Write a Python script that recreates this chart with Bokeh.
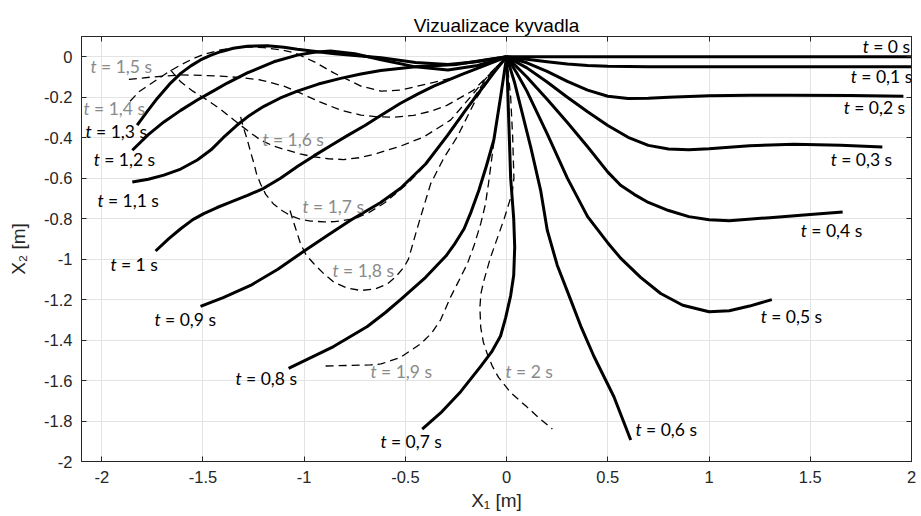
from bokeh.plotting import figure
from bokeh.models import Range1d, LinearAxis, FixedTicker, ColumnDataSource
from bokeh.core.properties import value
from bokeh.embed import file_html
from bokeh.resources import INLINE

# ---------------- data ----------------
x_t00 = [0.0, 2.0]
y_t00 = [0.0, 0.0]
x_t01 = [0.0, 0.1, 0.2, 0.3, 0.4, 0.5, 0.7, 1.0, 1.5, 2.0]
y_t01 = [0.0, -0.012, -0.025, -0.036, -0.043, -0.047, -0.05, -0.05, -0.05, -0.05]
x_t02 = [0.0, 0.1, 0.2, 0.3, 0.4, 0.5, 0.6, 0.7, 0.8, 1.0, 1.2, 1.4, 1.7, 1.96]
y_t02 = [0.0, -0.03, -0.072, -0.122, -0.165, -0.195, -0.206, -0.205, -0.2, -0.193, -0.19, -0.19, -0.192, -0.195]
x_t03 = [0.0, 0.1, 0.2, 0.3, 0.4, 0.5, 0.6, 0.7, 0.8, 0.9, 1.0, 1.2, 1.42, 1.65, 1.856]
y_t03 = [0.0, -0.055, -0.125, -0.2, -0.272, -0.34, -0.398, -0.438, -0.456, -0.46, -0.455, -0.44, -0.432, -0.437, -0.446]
x_t04 = [0.0, 0.1, 0.2, 0.3, 0.4, 0.5, 0.563, 0.63, 0.7, 0.8, 0.9, 1.0, 1.1, 1.3, 1.5, 1.66]
y_t04 = [0.0, -0.1, -0.21, -0.325, -0.445, -0.57, -0.635, -0.68, -0.72, -0.76, -0.79, -0.805, -0.81, -0.795, -0.78, -0.767]
x_t05 = [0.0, 0.05, 0.1, 0.2, 0.3, 0.4, 0.5, 0.563, 0.662, 0.761, 0.87, 1.0, 1.1, 1.2, 1.31]
y_t05 = [0.0, -0.08, -0.17, -0.38, -0.6, -0.79, -0.92, -0.995, -1.09, -1.17, -1.228, -1.26, -1.255, -1.232, -1.20]
x_t06 = [0.0, 0.04, 0.07, 0.12, 0.168, 0.201, 0.25, 0.316, 0.37, 0.431, 0.53, 0.613]
y_t06 = [0.0, -0.13, -0.25, -0.45, -0.66, -0.858, -1.03, -1.2, -1.34, -1.48, -1.68, -1.894]
x_t07 = [0.0, 0.01, 0.02, 0.035, 0.04, 0.035, 0.02, -0.005, -0.03, -0.075, -0.128, -0.227, -0.326, -0.417]
y_t07 = [0.0, -0.3, -0.6, -0.8, -0.94, -1.08, -1.18, -1.29, -1.38, -1.46, -1.53, -1.655, -1.76, -1.84]
x_t08 = [0.0, -0.03, -0.063, -0.1, -0.137, -0.175, -0.21, -0.26, -0.3, -0.4, -0.524, -0.6, -0.688, -0.855, -1.077]
y_t08 = [0.0, -0.2, -0.41, -0.54, -0.66, -0.765, -0.85, -0.93, -0.985, -1.09, -1.2, -1.265, -1.333, -1.432, -1.54]
x_t09 = [0.0, -0.06, -0.128, -0.2, -0.293, -0.4, -0.524, -0.622, -0.771, -0.88, -1.0, -1.13, -1.265, -1.4, -1.512]
y_t09 = [0.0, -0.075, -0.165, -0.26, -0.39, -0.53, -0.65, -0.72, -0.808, -0.88, -0.96, -1.05, -1.13, -1.19, -1.234]
x_t10 = [0.0, -0.1, -0.227, -0.36, -0.44, -0.524, -0.622, -0.7, -0.787, -0.87, -0.952, -1.03, -1.117,
         -1.2, -1.28, -1.364, -1.43, -1.496, -1.55, -1.61, -1.67, -1.734]
y_t10 = [0.0, -0.04, -0.09, -0.145, -0.185, -0.23, -0.29, -0.34, -0.39, -0.44, -0.49, -0.54, -0.6,
         -0.65, -0.685, -0.718, -0.745, -0.775, -0.805, -0.85, -0.9, -0.96]
x_t11 = [0.0, -0.1, -0.25, -0.45, -0.622, -0.72, -0.82, -0.93, -1.034, -1.12, -1.199, -1.27, -1.334,
         -1.4, -1.46, -1.528, -1.61, -1.693, -1.77, -1.849]
y_t11 = [0.0, -0.015, -0.038, -0.05, -0.068, -0.085, -0.107, -0.135, -0.17, -0.205, -0.245, -0.29, -0.34,
         -0.4, -0.46, -0.51, -0.555, -0.585, -0.605, -0.619]
x_t12 = [0.0, -0.15, -0.29, -0.45, -0.62, -0.75, -0.87, -0.95, -1.034, -1.15, -1.281, -1.38, -1.45,
         -1.528, -1.61, -1.693, -1.77, -1.849]
y_t12 = [0.0, -0.045, -0.065, -0.05, -0.015, 0.015, 0.028, 0.022, 0.008, -0.025, -0.08, -0.13, -0.17,
         -0.214, -0.265, -0.322, -0.385, -0.462]
x_t13 = [0.0, -0.15, -0.29, -0.45, -0.62, -0.85, -1.034, -1.1, -1.182, -1.281, -1.35, -1.413, -1.46,
         -1.512, -1.56, -1.61, -1.66, -1.726, -1.775, -1.825]
y_t13 = [0.0, -0.025, -0.038, -0.028, -0.005, 0.015, 0.037, 0.047, 0.054, 0.052, 0.042, 0.025, 0.008,
         -0.016, -0.045, -0.082, -0.13, -0.206, -0.27, -0.338]
x_t14 = [-1.86, -1.816, -1.73, -1.67, -1.61, -1.55, -1.5, -1.42, -1.35, -1.27, -1.2, -1.12, -1.05, -0.95,
         -0.854, -0.72, -0.62, -0.524, -0.375, -0.244, -0.08, 0.0]
y_t14 = [-0.22, -0.173, -0.115, -0.075, -0.04, -0.01, 0.01, 0.032, 0.045, 0.048, 0.045, 0.035, 0.02, -0.025,
         -0.08, -0.145, -0.17, -0.165, -0.13, -0.099, -0.033, 0.0]
x_t15 = [-1.866, -1.75, -1.61, -1.5, -1.413, -1.3, -1.215, -1.1, -1.018, -0.92, -0.82, -0.72, -0.64,
         -0.56, -0.46, -0.37, -0.293, -0.163, -0.079, 0.0]
y_t15 = [-0.112, -0.1, -0.09, -0.092, -0.096, -0.104, -0.115, -0.145, -0.18, -0.224, -0.264, -0.288, -0.297,
         -0.299, -0.29, -0.268, -0.239, -0.165, -0.081, 0.0]
x_t16 = [-1.66, -1.61, -1.55, -1.479, -1.41, -1.347, -1.28, -1.215, -1.15, -1.083, -1.02, -0.952, -0.88,
         -0.804, -0.72, -0.64, -0.52, -0.409, -0.277, -0.178, -0.08, 0.0]
y_t16 = [-0.066, -0.124, -0.17, -0.214, -0.262, -0.313, -0.365, -0.412, -0.442, -0.462, -0.48, -0.495,
         -0.504, -0.508, -0.498, -0.478, -0.44, -0.396, -0.313, -0.198, -0.08, 0.0]
x_t17 = [-1.314, -1.3, -1.281, -1.265, -1.248, -1.235, -1.215, -1.19, -1.153, -1.11, -1.07, -1.02, -0.968,
         -0.9, -0.85, -0.75, -0.68, -0.6, -0.49, -0.42, -0.36, -0.28, -0.21, -0.128, -0.06, 0.0]
y_t17 = [-0.297, -0.35, -0.41, -0.47, -0.528, -0.58, -0.63, -0.68, -0.726, -0.76, -0.784, -0.803, -0.812,
         -0.816, -0.815, -0.80, -0.77, -0.72, -0.627, -0.555, -0.48, -0.375, -0.28, -0.149, -0.06, 0.0]
x_t18 = [-1.07, -1.045, -1.018, -0.99, -0.952, -0.9, -0.853, -0.79, -0.72, -0.65, -0.589, -0.55, -0.507,
         -0.485, -0.465, -0.445, -0.425, -0.4, -0.375, -0.31, -0.244, -0.145, -0.07, 0.0]
y_t18 = [-0.76, -0.84, -0.924, -0.98, -1.023, -1.075, -1.114, -1.142, -1.155, -1.148, -1.122, -1.09,
         -1.04, -1.0, -0.93, -0.86, -0.792, -0.71, -0.627, -0.5, -0.396, -0.198, -0.09, 0.0]
x_t19 = [-0.894, -0.672, -0.62, -0.524, -0.425, -0.37, -0.326, -0.277, -0.235, -0.194, -0.16, -0.128, -0.105,
         -0.09, -0.06, -0.03, 0.0]
y_t19 = [-1.528, -1.523, -1.518, -1.485, -1.419, -1.365, -1.30, -1.188, -1.105, -1.023, -0.93, -0.825, -0.73,
         -0.63, -0.4, -0.2, 0.0]
x_t20 = [0.0, 0.02, 0.03, 0.036, 0.028, 0.011, -0.012, -0.038, -0.079, -0.112, -0.127, -0.132, -0.128,
         -0.115, -0.095, -0.07, -0.04, 0.02, 0.10, 0.16, 0.226]
y_t20 = [0.0, -0.2, -0.4, -0.6, -0.67, -0.726, -0.8, -0.874, -0.99, -1.105, -1.17, -1.238, -1.337,
         -1.41, -1.47, -1.53, -1.584, -1.66, -1.73, -1.785, -1.84]

solid_x = [x_t00, x_t01, x_t02, x_t03, x_t04, x_t05, x_t06, x_t07, x_t08, x_t09, x_t10, x_t11, x_t12, x_t13]
solid_y = [y_t00, y_t01, y_t02, y_t03, y_t04, y_t05, y_t06, y_t07, y_t08, y_t09, y_t10, y_t11, y_t12, y_t13]
dashed_x = [x_t14, x_t15, x_t16, x_t17, x_t18, x_t19, x_t20]
dashed_y = [y_t14, y_t15, y_t16, y_t17, y_t18, y_t19, y_t20]

# labels: italic "t" followed by the rest of the text (non-breaking spaces keep the gaps in SVG)
NB = "\u00a0"
label_rest = ["= 0 s", "= 0,1 s", "= 0,2 s", "= 0,3 s", "= 0,4 s", "= 0,5 s", "= 0,6 s",
              "= 0,7 s", "= 0,8 s", "= 0,9 s", "= 1 s", "= 1,1 s", "= 1,2 s", "= 1,3 s",
              "= 1,4 s", "= 1,5 s", "= 1,6 s", "= 1,7 s", "= 1,8 s", "= 1,9 s", "= 2 s"]
label_x = [1.759, 1.70, 1.665, 1.601, 1.453, 1.255, 0.637, -0.623, -1.339, -1.739, -1.957, -2.021,
           -2.04, -2.08, -2.09, -2.055, -1.206, -1.008, -0.86, -0.672, -0.005]
label_y = [0.053, -0.099, -0.249, -0.506, -0.858, -1.284, -1.842, -1.902, -1.589, -1.30, -1.028, -0.71,
           -0.508, -0.371, -0.255, -0.05, -0.409, -0.739, -1.056, -1.556, -1.553]
label_group = ["solid"] * 14 + ["dashed"] * 7

x_ticks = [-2, -1.5, -1, -0.5, 0, 0.5, 1, 1.5, 2]
x_tick_labels = ["-2", "-1.5", "-1", "-0.5", "0", "0.5", "1", "1.5", "2"]
y_ticks = [-2, -1.8, -1.6, -1.4, -1.2, -1, -0.8, -0.6, -0.4, -0.2, 0]
y_tick_labels = ["-2", "-1.8", "-1.6", "-1.4", "-1.2", "-1", "-0.8", "-0.6", "-0.4", "-0.2", "0"]

# ---------------- figure ----------------
AX = "#262626"
TICK_FONT = "Liberation Sans"
LABEL_FONT = "Lato"

p = figure(width=921, height=516, x_range=Range1d(-2.1, 2.0), y_range=Range1d(-2.0, 0.1),
           output_backend="svg", toolbar_location=None, title="Vizualizace kyvadla",
           min_border_left=81, min_border_right=10, min_border_top=36, min_border_bottom=55)
p.background_fill_color = "white"
p.border_fill_color = "white"
p.outline_line_color = AX
p.outline_line_width = 1

p.title.align = "center"
p.title.text_font = TICK_FONT
p.title.text_font_size = "19px"
p.title.text_font_style = "normal"
p.title.text_color = "black"
p.title.standoff = 2

for ax, ticks, labels in ((p.xaxis[0], x_ticks, x_tick_labels), (p.yaxis[0], y_ticks, y_tick_labels)):
    ax.ticker = FixedTicker(ticks=ticks)
    ax.major_label_overrides = {t: l for t, l in zip(ticks, labels)}
    ax.major_tick_in = 5
    ax.major_tick_out = 0
    ax.minor_tick_line_color = None
    ax.axis_line_color = AX
    ax.major_tick_line_color = AX
    ax.major_label_text_color = AX
    ax.major_label_text_font = TICK_FONT
    ax.major_label_text_font_size = "16.5px"
    ax.axis_label_text_font = TICK_FONT
    ax.axis_label_text_font_size = "19px"
    ax.axis_label_text_font_style = "normal"
    ax.axis_label_text_color = AX

p.xaxis.axis_label = "X\u2081 [m]"
p.yaxis.axis_label = "X\u2082 [m]"
p.xaxis.major_label_standoff = 9
p.yaxis.major_label_standoff = 9
p.xaxis.axis_label_standoff = 4
p.yaxis.axis_label_standoff = 12

# box ticks on the top and right sides (no labels there)
top_ax = LinearAxis(ticker=FixedTicker(ticks=x_ticks), major_tick_in=5, major_tick_out=0,
                    minor_tick_line_color=None, major_label_text_color=None,
                    axis_line_color=AX, major_tick_line_color=AX, major_label_standoff=0)
right_ax = LinearAxis(ticker=FixedTicker(ticks=y_ticks), major_tick_in=5, major_tick_out=0,
                      minor_tick_line_color=None, major_label_text_color=None,
                      axis_line_color=AX, major_tick_line_color=AX, major_label_standoff=0)
p.add_layout(top_ax, "above")
p.add_layout(right_ax, "right")

p.xgrid.ticker = FixedTicker(ticks=x_ticks)
p.ygrid.ticker = FixedTicker(ticks=y_ticks)
p.grid.grid_line_color = "#e3e3e3"
p.grid.grid_line_width = 1

p.multi_line(xs=dashed_x, ys=dashed_y, line_color="black", line_width=1.3, line_dash="8 5")
p.multi_line(xs=solid_x, ys=solid_y, line_color="black", line_width=3, line_join="round")

colors = ["black" if g == "solid" else "#8a8a8a" for g in label_group]
src = ColumnDataSource(dict(x=label_x, y=label_y, rest=[NB + r for r in label_rest], c=colors,
                            t=["t"] * len(label_x)))
p.text(x="x", y="y", text="t", source=src, text_color="c", text_font=value(LABEL_FONT),
       text_font_size="17.5px", text_font_style="italic", text_baseline="middle", text_align="left")
p.text(x="x", y="y", text="rest", source=src, text_color="c", text_font=value(LABEL_FONT),
       text_font_size="17.5px", text_baseline="middle", text_align="left", x_offset=6)

open("out.html", "w").write(file_html(p, INLINE))
